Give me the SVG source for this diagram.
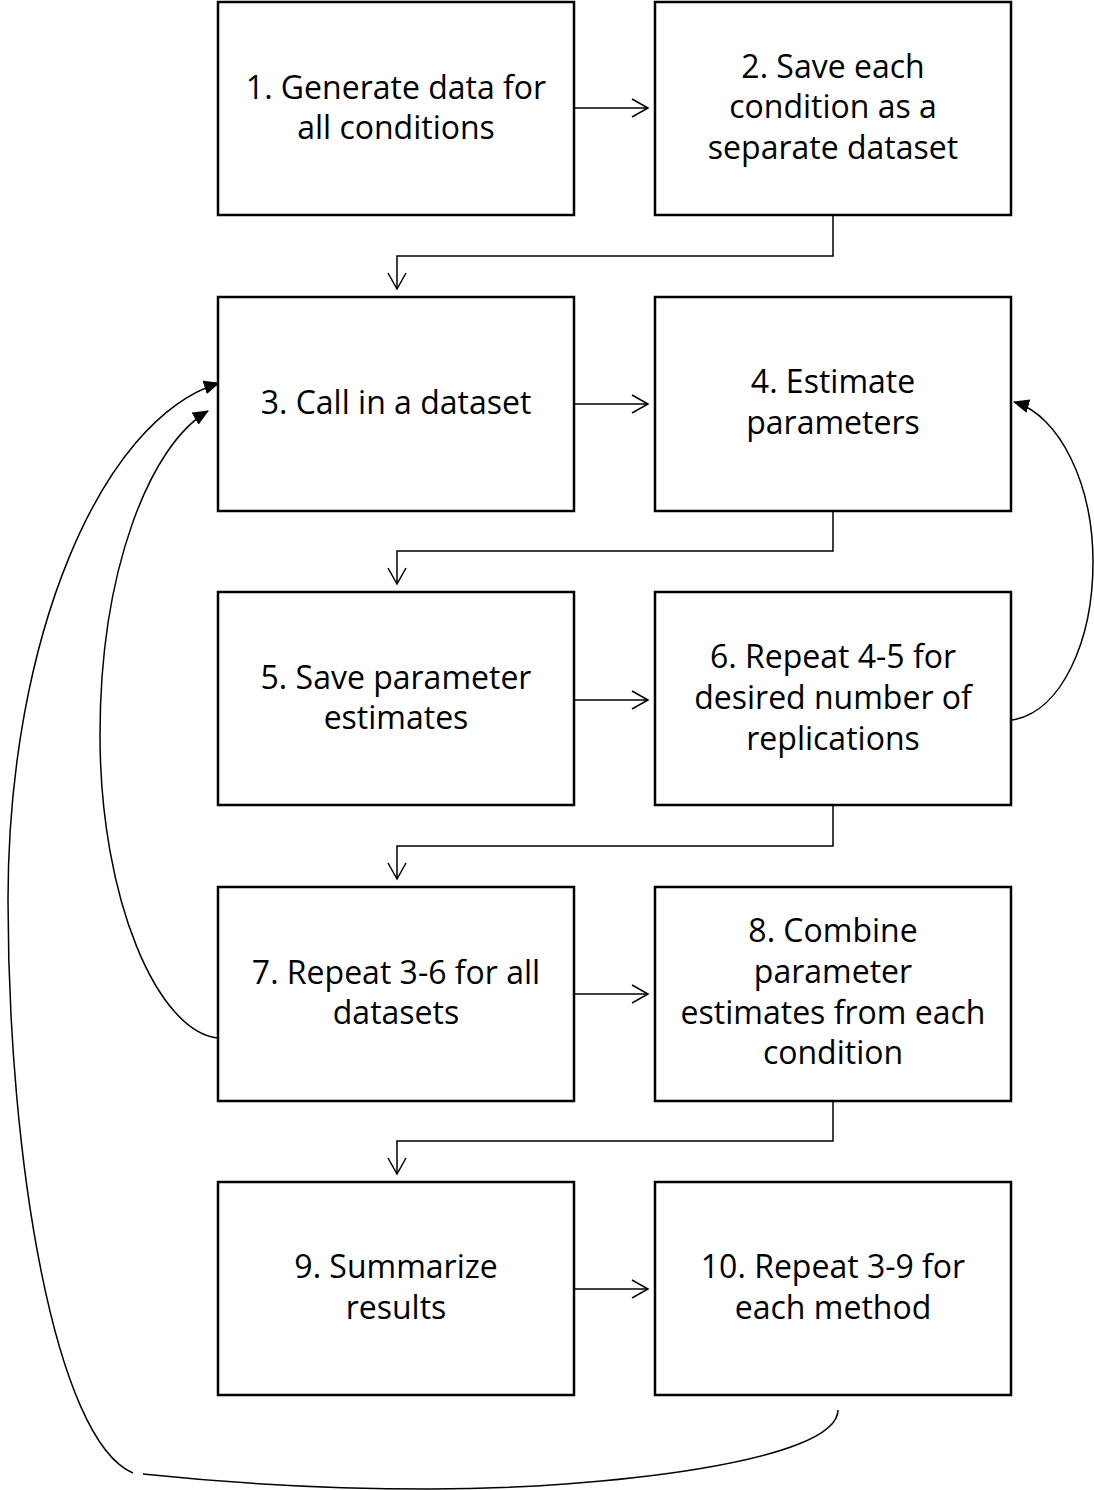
<svg xmlns="http://www.w3.org/2000/svg" width="1094" height="1490" viewBox="0 0 1094 1490">
<defs>
<style>
.box{fill:#fff;stroke:#000;stroke-width:2.5}
.lbl{font-family:"Open Sans","Liberation Sans",sans-serif;font-size:32px;fill:#000;text-anchor:middle}
.c{fill:none;stroke:#000;stroke-width:1.5}
</style>
<marker id="open" viewBox="0 0 20 20" refX="18" refY="10" markerWidth="20" markerHeight="20" markerUnits="userSpaceOnUse" orient="auto">
<path d="M2 1 L18 10 L2 19" fill="none" stroke="#000" stroke-width="1.5"/>
</marker>
<marker id="fill" viewBox="0 0 16 14" refX="15" refY="7" markerWidth="16" markerHeight="14" markerUnits="userSpaceOnUse" orient="auto">
<path d="M0 0 L16 7 L0 14 Z" fill="#000"/>
</marker>
</defs>
<rect width="1094" height="1490" fill="#fff"/>
<g id="connectors">
<path class="c" d="M574 108 H648" marker-end="url(#open)"/>
<path class="c" d="M574 404 H648" marker-end="url(#open)"/>
<path class="c" d="M574 700 H648" marker-end="url(#open)"/>
<path class="c" d="M574 994 H648" marker-end="url(#open)"/>
<path class="c" d="M574 1289 H648" marker-end="url(#open)"/>
<path class="c" d="M833 215 V256 H397 V289" marker-end="url(#open)"/>
<path class="c" d="M833 511 V551 H397 V584" marker-end="url(#open)"/>
<path class="c" d="M833 805 V846 H397 V879" marker-end="url(#open)"/>
<path class="c" d="M833 1101 V1141 H397 V1174" marker-end="url(#open)"/>
<path class="c" d="M1012 720 C1062 712 1093 640 1093 562 C1093 485 1060 415 1014 402" marker-end="url(#fill)"/>
<path class="c" d="M218 1038 C158 1032 100 900 100 735 C100 570 150 445 208 411" marker-end="url(#fill)"/>
<path class="c" d="M838 1410 C838 1462 600 1489 430 1489 C300 1489 200 1480 143 1474"/>
<path class="c" d="M133 1473 C55 1440 8 1160 8 900 C8 640 100 420 219 383" marker-end="url(#fill)"/>
</g>
<g id="n1"><rect class="box" x="218" y="2" width="356" height="213"/><text class="lbl" x="396" y="99">1. Generate data for</text><text class="lbl" x="396" y="139">all conditions</text></g>
<g id="n2"><rect class="box" x="655" y="2" width="356" height="213"/><text class="lbl" x="833" y="78">2. Save each</text><text class="lbl" x="833" y="118">condition as a</text><text class="lbl" x="833" y="159">separate dataset</text></g>
<g id="n3"><rect class="box" x="218" y="297" width="356" height="214"/><text class="lbl" x="396" y="414">3. Call in a dataset</text></g>
<g id="n4"><rect class="box" x="655" y="297" width="356" height="214"/><text class="lbl" x="833" y="393">4. Estimate</text><text class="lbl" x="833" y="434">parameters</text></g>
<g id="n5"><rect class="box" x="218" y="592" width="356" height="213"/><text class="lbl" x="396" y="689">5. Save parameter</text><text class="lbl" x="396" y="729">estimates</text></g>
<g id="n6"><rect class="box" x="655" y="592" width="356" height="213"/><text class="lbl" x="833" y="668">6. Repeat 4-5 for</text><text class="lbl" x="833" y="709">desired number of</text><text class="lbl" x="833" y="750">replications</text></g>
<g id="n7"><rect class="box" x="218" y="887" width="356" height="214"/><text class="lbl" x="396" y="984">7. Repeat 3-6 for all</text><text class="lbl" x="396" y="1024">datasets</text></g>
<g id="n8"><rect class="box" x="655" y="887" width="356" height="214"/><text class="lbl" x="833" y="942">8. Combine</text><text class="lbl" x="833" y="983">parameter</text><text class="lbl" x="833" y="1024">estimates from each</text><text class="lbl" x="833" y="1064">condition</text></g>
<g id="n9"><rect class="box" x="218" y="1182" width="356" height="213"/><text class="lbl" x="396" y="1278">9. Summarize</text><text class="lbl" x="396" y="1319">results</text></g>
<g id="n10"><rect class="box" x="655" y="1182" width="356" height="213"/><text class="lbl" x="833" y="1278">10. Repeat 3-9 for</text><text class="lbl" x="833" y="1319">each method</text></g>
</svg>
